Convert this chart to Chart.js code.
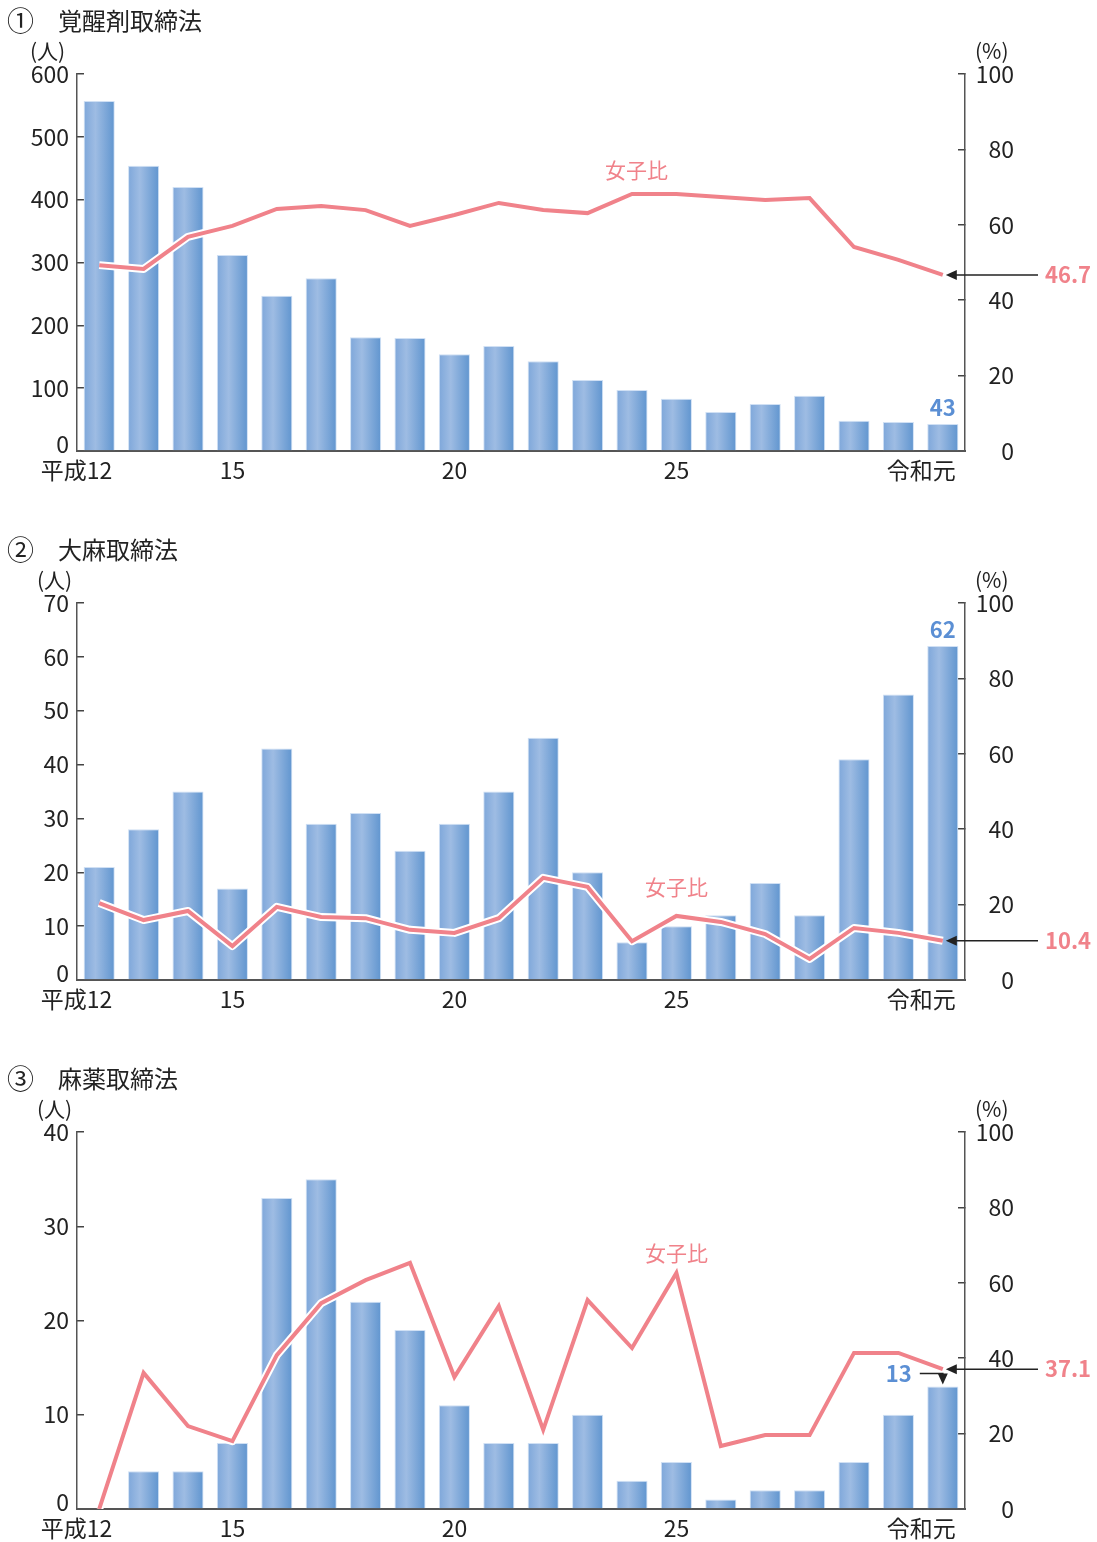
<!DOCTYPE html>
<html lang="ja">
<head>
<meta charset="UTF-8">
<title>薬物事犯 検挙人員と女子比</title>
<script src="https://cdn.jsdelivr.net/npm/chart.js"></script>
<style>
  body { margin: 0; background: #fff; font-family: "Noto Sans CJK JP", sans-serif; color: #222; }
  .panel { position: absolute; left: 0; width: 1097px; }
  .panel canvas { position: absolute; left: 0; top: 0; }
  .num, .name { position: absolute; top: 4px; font-size: 24px; line-height: 32px; }
  .num { left: 7px; font-size: 27px; }
  .name { left: 58px; }
  .unit { position: absolute; top: 38px; font-size: 21px; line-height: 24px; }
</style>
</head>
<body>

<div class="panel" style="top:0px">
  <canvas id="chart1" width="1097" height="529"></canvas>
  <div class="num">①</div><div class="name">覚醒剤取締法</div>
  <div class="unit" style="left:30px">(人)</div>
  <div class="unit" style="left:975px">(%)</div>
</div>
<div class="panel" style="top:529px">
  <canvas id="chart2" width="1097" height="529"></canvas>
  <div class="num">②</div><div class="name">大麻取締法</div>
  <div class="unit" style="left:37px">(人)</div>
  <div class="unit" style="left:975px">(%)</div>
</div>
<div class="panel" style="top:1058px">
  <canvas id="chart3" width="1097" height="484"></canvas>
  <div class="num">③</div><div class="name">麻薬取締法</div>
  <div class="unit" style="left:37px">(人)</div>
  <div class="unit" style="left:975px">(%)</div>
</div>

<script>
// 年次（平成12年～令和元年）
const years = ['平成12', '13', '14', '15', '16', '17', '18', '19', '20', '21',
               '22', '23', '24', '25', '26', '27', '28', '29', '30', '令和元'];
const xTickLabels = ['平成12', '', '', '15', '', '', '', '', '20', '',
                     '', '', '', '25', '', '', '', '', '', '令和元'];

// ① 覚醒剤取締法
const stimulantPersons = [557, 454, 420, 312, 247, 275, 181, 180, 154, 167,
                          143, 113, 97, 83, 62, 75, 88, 48, 46, 43];
const stimulantFemaleRatio = [49.3, 48.3, 56.8, 59.7, 64.2, 65.0, 63.9, 59.7, 62.6, 65.8,
                              63.9, 63.1, 68.2, 68.2, 67.4, 66.6, 67.1, 54.1, 50.7, 46.7];

// ② 大麻取締法
const cannabisPersons = [21, 28, 35, 17, 43, 29, 31, 24, 29, 35,
                         45, 20, 7, 10, 12, 18, 12, 41, 53, 62];
const cannabisFemaleRatio = [20.4, 15.9, 18.3, 9.0, 19.4, 16.7, 16.4, 13.3, 12.5, 16.4,
                             27.1, 24.7, 10.3, 17.0, 15.4, 12.2, 5.6, 13.8, 12.5, 10.4];

// ③ 麻薬取締法
const narcoticsPersons = [0, 4, 4, 7, 33, 35, 22, 19, 11, 7,
                          7, 10, 3, 5, 1, 2, 2, 5, 10, 13];
const narcoticsFemaleRatio = [0, 36.1, 22.0, 18.0, 40.8, 54.6, 60.7, 65.3, 35.0, 53.8,
                              21.0, 55.4, 42.7, 62.6, 16.7, 19.6, 19.6, 41.4, 41.4, 37.1];

const PINK = '#f0828a';
const BLUE_TEXT = '#5b8fd4';
const FONT = '"Noto Sans CJK JP", sans-serif';
const BAR_PCT = 0.7;

Chart.defaults.font.family = FONT;
Chart.defaults.font.size = 23;
Chart.defaults.color = '#222';

function barGradient(c) {
    const chart = c.chart;
    if (!chart.chartArea || c.dataIndex === undefined) return '#82a9db';
    const x = chart.scales.x;
    const cx = x.getPixelForValue(c.dataIndex);
    const half = x.width / years.length * BAR_PCT / 2;
    const g = chart.ctx.createLinearGradient(cx - half, 0, cx + half, 0);
    g.addColorStop(0, '#7ea7da');
    g.addColorStop(0.38, '#9ebce3');
    g.addColorStop(1, '#6095cf');
    return g;
}

function arrowHead(ctx, x, y, dir) {
    // dir: 'left' or 'down'
    ctx.beginPath();
    if (dir === 'left') {
        ctx.moveTo(x, y);
        ctx.lineTo(x + 11, y - 5);
        ctx.lineTo(x + 11, y + 5);
    } else {
        ctx.moveTo(x, y);
        ctx.lineTo(x - 5, y - 11);
        ctx.lineTo(x + 5, y - 11);
    }
    ctx.closePath();
    ctx.fill();
}

const notesPlugin = {
    id: 'notes',
    afterDraw(chart, args, o) {
        const {ctx, chartArea, scales} = chart;
        const x = scales.x, yl = scales.y, yr = scales.y2;
        const n = years.length - 1;
        const counts = chart.data.datasets[0].data;
        const ratio = chart.data.datasets[2].data;
        ctx.save();

        // left axis zero, lifted a little above the base line
        ctx.font = '23px ' + FONT;
        ctx.fillStyle = '#222';
        ctx.textAlign = 'right';
        ctx.textBaseline = 'middle';
        ctx.fillText('0', yl.right - 8, yl.getPixelForValue(0) - 7);

        // category labels
        xTickLabels.forEach((t, i) => {
            if (!t) return;
            let px = x.getPixelForValue(i);
            if (i === 0 || i === n) { ctx.textAlign = 'right'; px += 13; }
            else ctx.textAlign = 'center';
            ctx.fillText(t, px, chartArea.bottom + 19);
        });

        // 女子比 label
        ctx.font = '21px ' + FONT;
        ctx.fillStyle = PINK;
        ctx.textAlign = 'center';
        ctx.fillText('女子比', x.getPixelForValue(o.ratioLabel[0]), yr.getPixelForValue(o.ratioLabel[1]));

        // last ratio with arrow
        const px = x.getPixelForValue(n);
        const py = yr.getPixelForValue(ratio[n]);
        ctx.strokeStyle = '#222';
        ctx.fillStyle = '#222';
        ctx.lineWidth = 1.5;
        ctx.beginPath();
        ctx.moveTo(chartArea.right + 73, py);
        ctx.lineTo(px + 8, py);
        ctx.stroke();
        arrowHead(ctx, px + 3, py, 'left');
        ctx.font = 'bold 22px ' + FONT;
        ctx.fillStyle = PINK;
        ctx.textAlign = 'left';
        ctx.fillText(ratio[n].toFixed(1), chartArea.right + 80, py);

        // last count
        const by = yl.getPixelForValue(counts[n]);
        ctx.fillStyle = BLUE_TEXT;
        if (o.countSide === 'left') {
            const ty = by - 13;
            ctx.textAlign = 'right';
            ctx.fillText(String(counts[n]), px - 31, ty);
            ctx.strokeStyle = '#222';
            ctx.fillStyle = '#222';
            ctx.beginPath();
            ctx.moveTo(px - 23, ty);
            ctx.lineTo(px, ty);
            ctx.lineTo(px, by - 8);
            ctx.stroke();
            arrowHead(ctx, px, by - 2, 'down');
        } else {
            ctx.textAlign = 'center';
            ctx.fillText(String(counts[n]), px, by - 16);
        }
        ctx.restore();
    }
};

function makeChart(id, persons, ratio, leftMax, leftStep, notes) {
    const canvas = document.getElementById(id);
    const H = canvas.height;
    const axisGrid = {
        display: true,
        drawOnChartArea: false,
        drawTicks: true,
        tickLength: -7,
        color: '#444',
        lineWidth: 1.5
    };
    return new Chart(canvas, {
        type: 'bar',
        data: {
            labels: years,
            datasets: [
                {
                    label: '検挙人員',
                    data: persons,
                    yAxisID: 'y',
                    backgroundColor: barGradient,
                    borderColor: 'rgba(205, 222, 243, 0.95)',
                    borderWidth: 1,
                    categoryPercentage: 1,
                    barPercentage: BAR_PCT,
                    order: 3
                },
                {
                    label: 'halo',
                    type: 'line',
                    data: ratio,
                    yAxisID: 'y2',
                    borderColor: '#ffffff',
                    borderWidth: 8,
                    borderJoinStyle: 'round',
                    pointRadius: 0,
                    tension: 0,
                    order: 2
                },
                {
                    label: '女子比',
                    type: 'line',
                    data: ratio,
                    yAxisID: 'y2',
                    borderColor: PINK,
                    borderWidth: 4,
                    pointRadius: 0,
                    tension: 0,
                    order: 1
                }
            ]
        },
        options: {
            responsive: false,
            animation: false,
            layout: { padding: { top: 74, right: 83, left: 0, bottom: 0 } },
            plugins: {
                legend: { display: false },
                tooltip: { enabled: false },
                notes: notes
            },
            scales: {
                x: {
                    grid: { display: false },
                    border: { display: true, color: '#555', width: 2 },
                    ticks: { display: false },
                    afterFit(s) { s.height = H - 451; }
                },
                y: {
                    position: 'left',
                    min: 0,
                    max: leftMax,
                    grid: axisGrid,
                    border: { display: true, color: '#555', width: 1.5 },
                    ticks: {
                        stepSize: leftStep,
                        padding: 15,
                        callback: v => (v === 0 ? '' : v)
                    },
                    afterFit(s) { s.width = 77; }
                },
                y2: {
                    position: 'right',
                    min: 0,
                    max: 100,
                    grid: axisGrid,
                    border: { display: true, color: '#555', width: 1.5 },
                    ticks: { stepSize: 20, crossAlign: 'far' },
                    afterFit(s) { s.width = 49; }
                }
            }
        },
        plugins: [notesPlugin]
    });
}

makeChart('chart1', stimulantPersons, stimulantFemaleRatio, 600, 100,
          { ratioLabel: [12.1, 74.5], countSide: 'above' });
makeChart('chart2', cannabisPersons, cannabisFemaleRatio, 70, 10,
          { ratioLabel: [13, 24.7], countSide: 'above' });
makeChart('chart3', narcoticsPersons, narcoticsFemaleRatio, 40, 10,
          { ratioLabel: [13, 67.9], countSide: 'left' });
</script>
</body>
</html>
